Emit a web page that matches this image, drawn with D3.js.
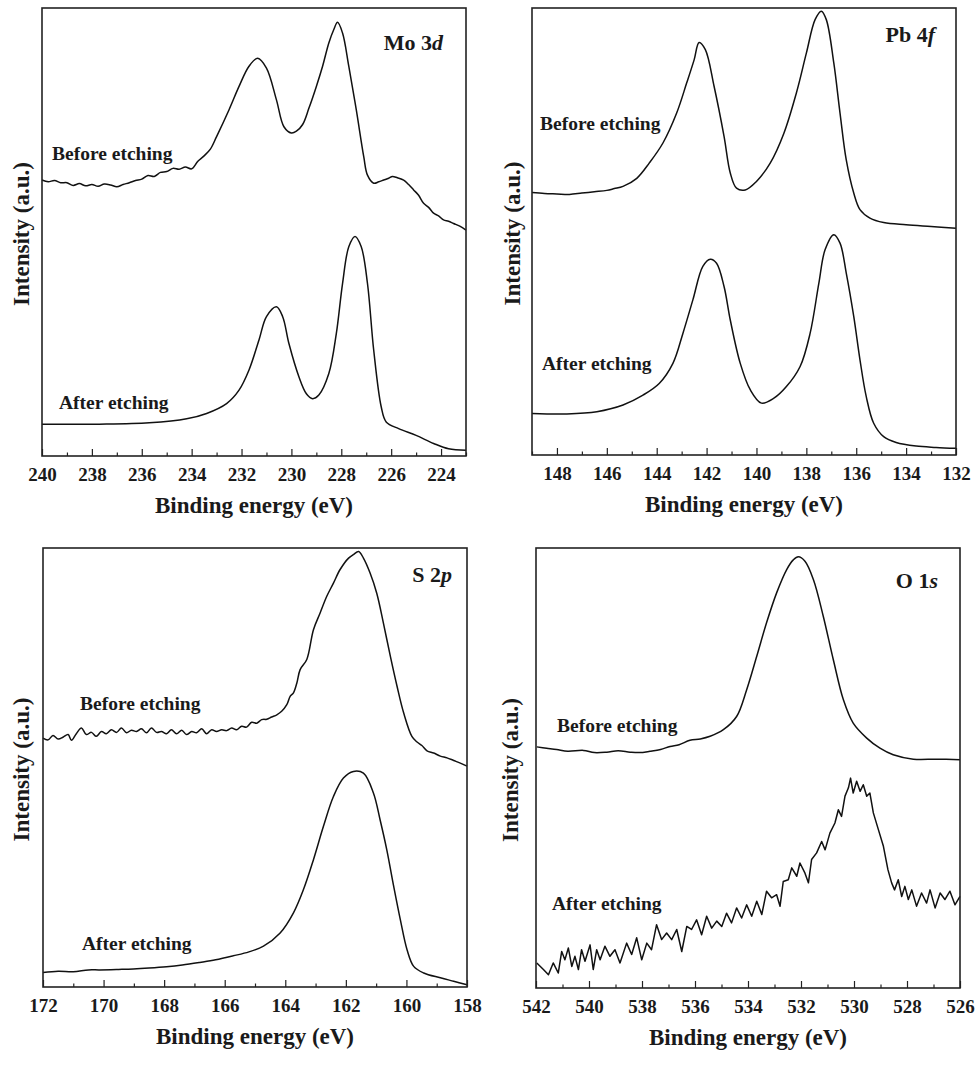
<!DOCTYPE html>
<html>
<head>
<meta charset="utf-8">
<script src="https://cdn.jsdelivr.net/npm/d3@7"></script>
<style>
  body { margin: 0; background: #fff; }
  svg { display: block; }
</style>
</head>
<body>
<div id="chart"></div>
<script>
// binding energy ranges (eV), high -> low as plotted
const moDomain = [240, 223];
const pbDomain = [149, 132];
const sDomain = [172, 158];
const oDomain = [542, 526];

// spectra: [binding energy (eV), intensity (a.u., 0-100)]
const moBefore = [[240.0,61.6],[239.75,61.2],[239.5,61.5],[239.25,61.0],[239.0,61.0],[238.75,60.4],[238.5,60.8],[238.25,60.3],[238.0,60.6],[237.75,60.2],[237.5,60.7],[237.25,60.5],[237.0,60.1],[236.75,60.6],[236.5,61.0],[236.25,61.5],[236.0,61.8],[235.75,62.6],[235.5,62.4],[235.25,63.3],[235.0,63.5],[234.75,64.2],[234.5,64.0],[234.25,64.5],[234.0,64.1],[233.75,65.8],[233.5,67.0],[233.25,68.5],[233.0,71.3],[232.5,77.3],[232.1,82.5],[231.7,87.0],[231.35,88.8],[231.0,86.6],[230.6,79.5],[230.3,73.5],[230.0,72.1],[229.8,72.5],[229.55,74.0],[229.3,77.6],[229.0,82.5],[228.75,87.0],[228.5,92.2],[228.3,95.2],[228.15,96.8],[227.95,94.4],[227.7,87.0],[227.4,77.3],[227.1,66.8],[226.95,62.7],[226.7,60.9],[226.5,61.2],[226.3,61.6],[226.1,62.0],[225.95,62.4],[225.75,62.1],[225.5,61.6],[225.3,60.6],[225.1,59.4],[224.9,58.2],[224.7,56.4],[224.5,55.5],[224.3,54.2],[224.1,53.6],[223.9,52.7],[223.7,52.4],[223.5,51.9],[223.25,51.3],[223.0,50.4]];
const moAfter = [[240.0,7.1],[237.7,7.1],[235.7,7.4],[234.2,8.3],[233.4,9.5],[232.6,11.7],[232.1,14.7],[231.7,19.2],[231.3,25.9],[231.0,31.1],[230.6,33.3],[230.35,31.1],[230.1,25.1],[229.7,17.7],[229.4,13.9],[229.15,12.8],[228.9,13.6],[228.5,18.4],[228.2,27.3],[227.95,38.5],[227.7,46.7],[227.45,49.0],[227.2,46.7],[226.95,38.5],[226.7,23.6],[226.4,11.0],[226.2,7.6],[225.7,6.1],[225.0,4.6],[224.3,2.8],[223.7,1.6],[223.0,1.3]];

const pbBefore = [[149.0,58.7],[148.5,58.5],[148.0,58.4],[147.5,58.3],[147.0,58.6],[146.5,58.9],[146.0,59.2],[145.7,59.6],[145.35,60.1],[144.8,61.9],[144.3,65.3],[143.75,69.8],[143.2,76.5],[142.8,83.2],[142.5,88.4],[142.3,92.3],[142.05,90.7],[141.7,82.5],[141.3,71.3],[141.05,63.1],[140.8,59.7],[140.45,59.3],[140.0,61.2],[139.45,65.3],[138.9,72.0],[138.4,81.0],[138.0,89.9],[137.65,97.4],[137.4,99.3],[137.2,97.4],[136.9,87.7],[136.65,76.5],[136.4,66.0],[136.1,58.6],[135.85,54.9],[135.45,53.0],[134.9,52.0],[134.0,51.5],[133.0,51.1],[132.0,50.7]];
const pbAfter = [[149.0,9.3],[147.6,9.2],[146.4,9.7],[145.35,11.2],[144.55,13.4],[143.9,16.0],[143.35,20.5],[142.95,27.2],[142.55,34.7],[142.15,42.2],[141.85,43.8],[141.6,42.9],[141.3,37.7],[141.05,30.2],[140.65,20.5],[140.25,14.6],[139.8,11.6],[139.3,12.7],[138.8,15.3],[138.25,19.8],[137.85,27.2],[137.5,38.4],[137.25,45.9],[136.9,49.3],[136.65,47.4],[136.4,40.7],[136.1,31.0],[135.85,21.3],[135.6,13.1],[135.3,7.1],[134.9,4.1],[134.4,2.8],[133.6,2.0],[132.8,1.7],[132.0,1.5]];

const sBefore = [[172.0,56.7],[171.83,56.3],[171.67,57.3],[171.5,56.5],[171.34,56.9],[171.17,57.5],[171.06,56.2],[170.9,57.7],[170.73,59.0],[170.57,57.5],[170.4,58.0],[170.24,57.1],[170.07,58.2],[169.91,57.7],[169.74,58.6],[169.57,58.0],[169.41,59.0],[169.24,57.9],[169.08,58.5],[168.91,58.2],[168.75,58.8],[168.58,57.9],[168.42,59.0],[168.25,58.0],[168.09,58.2],[167.92,57.7],[167.76,58.6],[167.59,57.7],[167.42,58.5],[167.26,57.5],[167.09,58.2],[166.93,57.9],[166.76,58.8],[166.6,57.7],[166.43,58.6],[166.27,58.2],[166.1,58.6],[165.94,58.4],[165.77,59.0],[165.61,58.6],[165.44,59.4],[165.28,59.2],[165.11,60.3],[164.94,60.1],[164.78,60.9],[164.61,61.0],[164.45,61.5],[164.28,62.0],[164.12,62.8],[163.95,64.3],[163.84,66.2],[163.73,67.0],[163.62,69.2],[163.51,72.3],[163.29,74.6],[163.07,81.4],[162.85,85.2],[162.63,89.0],[162.41,92.0],[162.19,95.1],[161.91,97.7],[161.75,98.5],[161.58,99.2],[161.42,97.7],[161.2,94.3],[160.98,89.7],[160.76,82.9],[160.53,75.3],[160.31,68.5],[160.09,62.4],[159.82,57.1],[159.65,55.8],[159.49,55.0],[159.32,53.8],[159.1,53.3],[158.88,52.6],[158.66,52.2],[158.44,51.6],[158.22,51.0],[158.0,50.3]];
const sAfter = [[172.0,3.3],[171.5,3.6],[171.0,3.5],[170.5,3.9],[170.13,3.9],[169.5,4.0],[169.02,4.1],[168.5,4.3],[167.92,4.6],[167.4,5.0],[166.82,5.6],[166.3,6.2],[165.72,7.1],[165.2,8.0],[164.72,9.3],[164.17,12.3],[163.73,16.9],[163.4,22.2],[163.07,29.0],[162.74,36.6],[162.41,43.4],[162.08,47.6],[161.75,49.1],[161.42,48.7],[161.09,44.2],[160.87,38.1],[160.65,31.3],[160.42,22.9],[160.2,15.3],[159.98,8.5],[159.76,4.7],[159.43,3.2],[158.88,2.1],[158.44,1.3],[158.0,0.5]];

const oBefore = [[541.97,54.8],[541.6,54.5],[541.22,54.2],[540.8,53.8],[540.21,54.0],[539.8,53.5],[539.33,53.6],[538.9,53.9],[538.45,53.6],[538.1,53.5],[537.7,53.8],[537.3,54.2],[536.94,54.9],[536.6,55.3],[536.19,56.3],[535.8,56.6],[535.43,57.2],[534.93,58.7],[534.43,61.7],[534.05,67.8],[533.67,75.4],[533.3,83.0],[532.92,89.8],[532.54,95.1],[532.29,97.3],[532.1,98.0],[531.85,97.0],[531.53,92.8],[531.16,84.5],[530.78,74.6],[530.4,65.5],[530.03,60.2],[529.52,56.8],[529.02,54.5],[528.52,53.0],[527.76,52.0],[526.88,52.0],[526.0,51.9]];
const oAfter = [[541.97,5.7],[541.72,4.2],[541.53,3.0],[541.35,5.7],[541.16,3.4],[541.03,8.3],[540.91,6.4],[540.78,9.1],[540.65,4.9],[540.53,7.2],[540.4,4.2],[540.28,8.7],[540.15,6.1],[539.96,9.8],[539.84,4.2],[539.71,8.7],[539.58,6.4],[539.4,9.5],[539.21,7.2],[539.02,8.7],[538.83,5.7],[538.58,10.2],[538.39,7.6],[538.2,11.4],[538.01,6.4],[537.82,10.2],[537.64,8.7],[537.45,14.4],[537.26,11.0],[537.07,12.5],[536.88,11.0],[536.69,13.3],[536.5,8.3],[536.31,14.0],[536.13,13.3],[535.94,15.5],[535.75,12.1],[535.56,16.3],[535.37,13.6],[535.18,15.2],[534.99,14.0],[534.81,17.0],[534.62,14.8],[534.43,18.2],[534.24,15.9],[534.05,18.9],[533.86,16.3],[533.67,19.7],[533.48,16.7],[533.3,22.0],[533.11,20.5],[532.92,21.2],[532.79,18.6],[532.67,24.2],[532.48,24.6],[532.35,27.3],[532.16,25.4],[532.04,28.4],[531.85,26.1],[531.72,23.9],[531.6,29.2],[531.41,30.7],[531.22,33.3],[531.09,31.4],[530.91,35.2],[530.72,37.5],[530.59,40.5],[530.47,39.0],[530.34,43.6],[530.21,45.5],[530.13,47.7],[530.03,44.3],[529.9,47.0],[529.77,44.7],[529.65,46.2],[529.52,43.6],[529.4,44.3],[529.27,39.8],[529.08,36.0],[528.89,32.2],[528.72,26.9],[528.58,23.9],[528.47,22.3],[528.33,24.6],[528.2,20.8],[528.08,23.1],[527.95,20.1],[527.82,22.3],[527.64,18.6],[527.45,21.6],[527.26,19.3],[527.13,22.3],[526.94,18.2],[526.75,21.6],[526.57,20.1],[526.38,22.0],[526.19,18.9],[526.0,20.8]];

const seriesLabels = ["Before etching", "After etching"];

const FONT = '"Times New Roman", "Liberation Serif", Times, serif';
const W = 977, H = 1069;

const svg = d3.select("#chart").append("svg")
  .attr("width", W)
  .attr("height", H)
  .style("background", "#fff");

// panel layout
const panels = [
  { el: "Mo", orb: "3d", domain: moDomain, before: moBefore, after: moAfter,
    left: 42, top: 8, w: 424, h: 448, ylab: 29,
    title: [23, 42], lb: [10, 152], la: [17, 401] },
  { el: "Pb", orb: "4f", domain: pbDomain, before: pbBefore, after: pbAfter,
    left: 532, top: 8, w: 424, h: 447, ylab: 520,
    title: [21, 34], lb: [8, 122], la: [10, 362] },
  { el: "S", orb: "2p", domain: sDomain, before: sBefore, after: sAfter,
    left: 43, top: 548, w: 424, h: 439, ylab: 29,
    title: [15, 34], lb: [37, 162], la: [39, 402] },
  { el: "O", orb: "1s", domain: oDomain, before: oBefore, after: oAfter, noisy: true,
    left: 536, top: 548, w: 424, h: 440, ylab: 518,
    title: [22, 40], lb: [21, 184], la: [16, 362] }
];

panels.forEach(p => {
  const g = svg.append("g").attr("transform", `translate(${p.left},${p.top})`);

  const x = d3.scaleLinear().domain(p.domain).range([0, p.w]);
  const y = d3.scaleLinear().domain([0, 100]).range([p.h, 0]);

  const hi = d3.max(p.domain), lo = d3.min(p.domain);
  const majors = d3.range(lo, hi + 0.01, 1).filter(v => v % 2 === 0);
  const minors = d3.range(lo, hi + 0.01, 1).filter(v => v % 2 !== 0);

  // minor ticks
  g.append("g")
    .attr("transform", `translate(0,${p.h})`)
    .call(d3.axisBottom(x).tickValues(minors).tickSize(-3.5).tickFormat(""))
    .call(a => a.select(".domain").remove())
    .selectAll("line").attr("stroke", "#222").attr("stroke-width", 1.2);

  // major ticks + labels
  const ax = g.append("g")
    .attr("transform", `translate(0,${p.h})`)
    .call(d3.axisBottom(x).tickValues(majors).tickSize(-7).tickPadding(12).tickFormat(d3.format("d")));
  ax.select(".domain").remove();
  ax.selectAll("line").attr("stroke", "#222").attr("stroke-width", 1.2);
  ax.selectAll("text")
    .attr("fill", "#1a1a1a")
    .style("font-family", FONT)
    .style("font-weight", "bold")
    .style("font-size", "19px");

  const line = d3.line()
    .x(d => x(d[0]))
    .y(d => y(d[1]))
    .curve(d3.curveCatmullRom.alpha(0.5));

  const noisyLine = d3.line()
    .x(d => x(d[0]))
    .y(d => y(d[1]));

  g.append("path")
    .datum(p.before)
    .attr("d", line)
    .attr("fill", "none")
    .attr("stroke", "#111")
    .attr("stroke-width", 1.5)
    .attr("stroke-linejoin", "round");

  g.append("path")
    .datum(p.after)
    .attr("d", p.noisy ? noisyLine : line)
    .attr("fill", "none")
    .attr("stroke", "#111")
    .attr("stroke-width", 1.5)
    .attr("stroke-linejoin", "round");

  // frame
  g.append("rect")
    .attr("width", p.w)
    .attr("height", p.h)
    .attr("fill", "none")
    .attr("stroke", "#222")
    .attr("stroke-width", 1.6);

  // series labels
  [[seriesLabels[0], p.lb], [seriesLabels[1], p.la]].forEach(([t, pos]) => {
    g.append("text")
      .attr("x", pos[0])
      .attr("y", pos[1])
      .attr("fill", "#1a1a1a")
      .style("font-family", FONT)
      .style("font-weight", "bold")
      .style("font-size", "19.5px")
      .text(t);
  });

  // panel title
  const tt = g.append("text")
    .attr("x", p.w - p.title[0])
    .attr("y", p.title[1])
    .attr("text-anchor", "end")
    .attr("fill", "#1a1a1a")
    .style("font-family", FONT)
    .style("font-weight", "bold")
    .style("font-size", "22px");
  tt.append("tspan").text(p.el + " " + p.orb[0]);
  tt.append("tspan").style("font-style", "italic").text(p.orb.slice(1));

  // x axis title
  g.append("text")
    .attr("x", p.w / 2)
    .attr("y", p.h + 57)
    .attr("text-anchor", "middle")
    .attr("fill", "#1a1a1a")
    .style("font-family", FONT)
    .style("font-weight", "bold")
    .style("font-size", "23px")
    .text("Binding energy (eV)");

  // y axis title
  svg.append("text")
    .attr("transform", `translate(${p.ylab},${p.top + p.h / 2 + 2}) rotate(-90)`)
    .attr("text-anchor", "middle")
    .attr("fill", "#1a1a1a")
    .style("font-family", FONT)
    .style("font-weight", "bold")
    .style("font-size", "23px")
    .text("Intensity (a.u.)");
});
</script>
</body>
</html>
